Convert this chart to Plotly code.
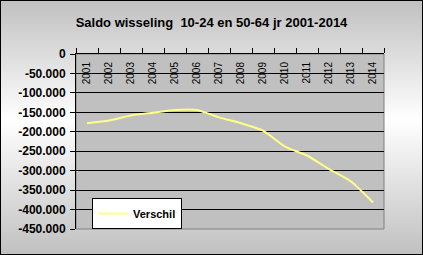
import base64
import plotly.graph_objects as go

years = [2001, 2002, 2003, 2004, 2005, 2006, 2007, 2008, 2009, 2010, 2011, 2012, 2013, 2014]
verschil = [-178000, -171000, -158000, -151000, -144000, -144000, -163000, -178000, -197000,
            -238000, -261000, -296000, -328000, -382000]
y_ticks = [0, -50000, -100000, -150000, -200000, -250000, -300000, -350000, -400000, -450000]
y_ticktext = ["0", "-50.000", "-100.000", "-150.000", "-200.000", "-250.000", "-300.000",
              "-350.000", "-400.000", "-450.000"]
title_text = "Saldo wisseling  10-24 en 50-64 jr 2001-2014"
series_name = "Verschil"

W, H = 423, 255
L, R, T, B = 76, 39, 54, 26
pw, ph = W - L - R, H - T - B

boundaries = [y - 0.5 for y in years] + [years[-1] + 0.5]

svg = f'''<svg xmlns="http://www.w3.org/2000/svg" width="{W}" height="{H}" viewBox="0 0 {W} {H}" preserveAspectRatio="none">
<defs><linearGradient id="g" x1="0" y1="0" x2="0" y2="1">
<stop offset="0" stop-color="#c0c0c0"/><stop offset="0.47" stop-color="#ffffff"/><stop offset="1" stop-color="#c0c0c0"/>
</linearGradient></defs>
<rect x="0" y="0" width="{W}" height="{H}" fill="url(#g)"/>
<rect x="0.5" y="0.5" width="{W-1}" height="{H-1}" fill="none" stroke="#000000" stroke-width="1"/>
</svg>'''
src = "data:image/svg+xml;base64," + base64.b64encode(svg.encode()).decode()

fig = go.Figure()
fig.add_trace(go.Scatter(
    x=years, y=verschil, mode="lines", name=series_name,
    line=dict(color="#ffff88", width=2, shape="spline", smoothing=0.6),
))
# invisible copy on the label axis so that it is drawn
fig.add_trace(go.Scatter(
    x=years, y=verschil, mode="lines", xaxis="x2", showlegend=False, hoverinfo="skip",
    line=dict(color="rgba(0,0,0,0)", width=0),
))

fig.update_layout(
    template="none",
    width=W, height=H,
    margin=dict(l=L, r=R, t=T, b=B, pad=0),
    paper_bgcolor="#ffffff",
    plot_bgcolor="#c0c0c0",
    font=dict(family="Liberation Sans, Arial", color="#000000"),
    title=dict(text=title_text, x=0.5, xanchor="center", y=1 - 22 / H, yanchor="middle",
               font=dict(size=13, family="Liberation Sans, Arial", weight="bold")),
    showlegend=True,
    legend=dict(x=(92 - L) / pw, y=(229 - 198) / ph, xanchor="left", yanchor="top",
                bgcolor="#ffffff", bordercolor="#000000", borderwidth=1,
                font=dict(size=11, weight="bold"), itemwidth=30,
                tracegroupgap=0),
    images=[dict(source=src, xref="paper", yref="paper", x=-L / pw, y=1 + T / ph,
                 sizex=W / pw, sizey=H / ph, xanchor="left", yanchor="top",
                 sizing="stretch", layer="below")],
    shapes=[dict(type="rect", xref="paper", yref="paper", x0=0, x1=1, y0=0, y1=1,
                 fillcolor="#c0c0c0", line=dict(color="#808080", width=1), layer="below")],
    xaxis=dict(
        range=[2000.5, 2014.5], side="top", tickmode="array", tickvals=boundaries,
        showticklabels=False, ticks="outside", ticklen=5, tickcolor="#000000",
        showgrid=False, gridcolor="rgba(0,0,0,0)", zeroline=False,
        showline=True, linecolor="#000000", linewidth=1, fixedrange=True,
    ),
    xaxis2=dict(
        range=[2000.5, 2014.5], overlaying="x", side="bottom", anchor="free",
        position=1 - 5 / ph, tickmode="array", tickvals=years,
        ticktext=[str(y) for y in years], tickangle=-90, ticks="",
        tickfont=dict(size=10, family="Liberation Sans, Arial"),
        showgrid=False, gridcolor="rgba(0,0,0,0)", zeroline=False, showline=False,
        fixedrange=True,
    ),
    yaxis=dict(
        range=[-450000, 0], tickmode="array", tickvals=y_ticks, ticktext=y_ticktext,
        ticks="outside", ticklen=5, tickcolor="#000000",
        tickfont=dict(size=12, weight="bold"), ticklabelstandoff=2,
        showgrid=True, gridcolor="#000000", gridwidth=1, zeroline=False,
        showline=True, linecolor="#000000", linewidth=1, fixedrange=True,
    ),
)

fig.write_html("out.html", config={"displayModeBar": False})
